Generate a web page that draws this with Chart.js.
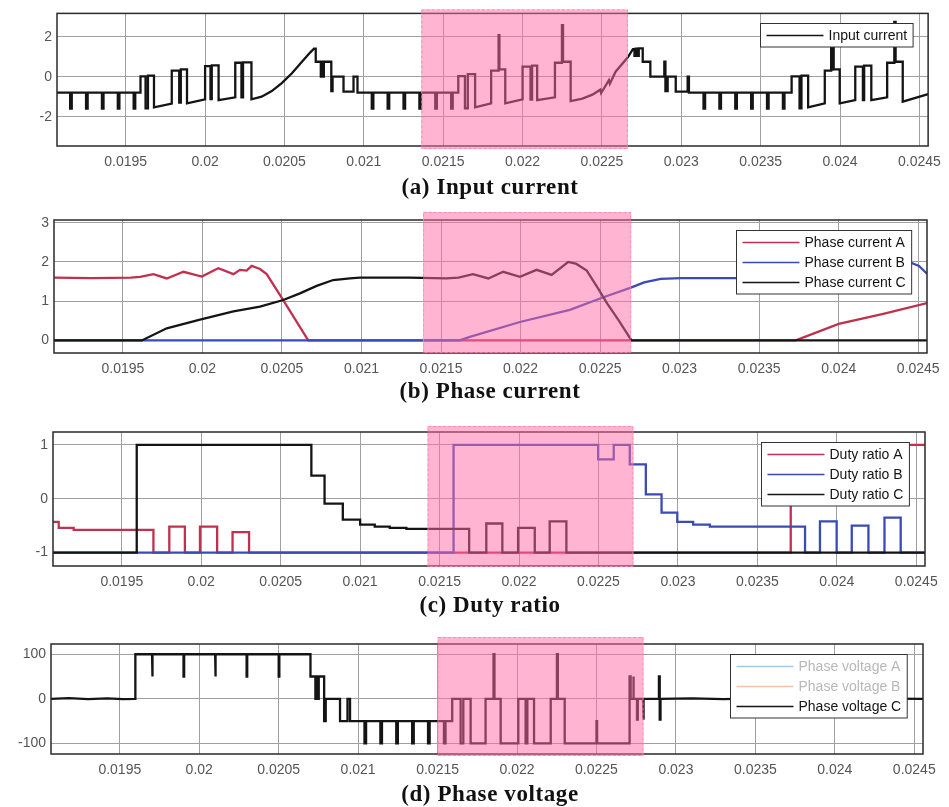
<!DOCTYPE html>
<html>
<head>
<meta charset="utf-8">
<script src="https://cdn.jsdelivr.net/npm/chart.js@4.4.1/dist/chart.umd.min.js"></script>
<style>
  body { margin: 0; background: #fff; }
  #fig { position: relative; width: 949px; height: 807px; overflow: hidden; }
  #fig canvas { position: absolute; left: 0; }
  .cap { position: absolute; left: 490px; transform: translate(-50%, -50%); white-space: nowrap;
         font: bold 23px "Liberation Serif", "Times New Roman", serif; letter-spacing: 0.6px; color: #111; }
</style>
</head>
<body>
<div id="fig">
  <canvas id="cA" width="949" height="190" style="top:0px"></canvas>
  <canvas id="cB" width="949" height="190" style="top:200px"></canvas>
  <canvas id="cC" width="949" height="190" style="top:410px"></canvas>
  <canvas id="cD" width="949" height="170" style="top:624px"></canvas>
  <div class="cap" style="top:187px">(a) Input current</div>
  <div class="cap" style="top:391px">(b) Phase current</div>
  <div class="cap" style="top:605px">(c) Duty ratio</div>
  <div class="cap" style="top:794px">(d) Phase voltage</div>
</div>
<script>
"use strict";

// 1: data (time in s)
const xMin = 0.019067, xMax = 0.024555;
const xTicks = [0.0195, 0.02, 0.0205, 0.021, 0.0215, 0.022, 0.0225, 0.023, 0.0235, 0.024, 0.0245];
const xTickLabels = ['0.0195', '0.02', '0.0205', '0.021', '0.0215', '0.022', '0.0225', '0.023', '0.0235', '0.024', '0.0245'];

// highlighted window per panel (a, b, c, d)
const hlFrom = [0.021362, 0.021387, 0.021424, 0.0215];
const hlTo = [0.022664, 0.022695, 0.02272, 0.022796];

// (a) input current
const inputTicks = [-2, 0, 2];
const inputCurrent = [
  [0.019067,-0.80],
  [0.01915,-0.80],[0.01915,-1.60],[0.01916,-1.60],[0.01916,-0.80],
  [0.01925,-0.80],[0.01925,-1.60],[0.01926,-1.60],[0.01926,-0.80],
  [0.01935,-0.80],[0.01935,-1.60],[0.01936,-1.60],[0.01936,-0.80],
  [0.01945,-0.80],[0.01945,-1.60],[0.01946,-1.60],[0.01946,-0.80],
  [0.01955,-0.80],[0.01955,-1.60],[0.01956,-1.60],[0.01956,-0.80],
  [0.019593,-0.80],[0.019593,0.02],[0.019625,0.02],[0.019625,-1.58],[0.01964,-1.58],[0.01964,0.05],[0.019678,0.05],[0.019678,-1.53],
  [0.01979,-1.35],[0.01979,0.30],[0.019837,0.30],[0.019837,-1.30],[0.019847,-1.30],[0.019847,0.37],[0.019886,0.37],[0.019886,-1.33],
  [0.02,-1.13],[0.02,0.53],[0.020034,0.53],[0.020034,-1.12],[0.020042,-1.12],[0.020042,0.57],[0.020085,0.57],[0.020085,-1.17],
  [0.02019,-1.03],[0.02019,0.70],[0.020229,0.70],[0.020229,-1.03],[0.020239,-1.03],[0.020239,0.72],[0.020292,0.72],[0.020292,-1.13],
  [0.020356,-1.00],[0.02042,-0.72],[0.020483,-0.32],[0.020547,0.17],[0.02061,0.75],[0.020663,1.22],[0.020686,1.40],
  [0.020697,1.40],[0.020697,0.75],[0.020729,0.75],[0.020729,0.0],[0.020735,0.0],[0.020735,0.75],[0.020742,0.75],[0.020742,0.0],
  [0.020748,0.0],[0.020748,0.75],[0.020795,0.75],[0.020795,-0.72],[0.020803,-0.72],[0.020803,0.0],[0.020872,0.0],[0.020872,-0.75],
  [0.020935,-0.75],[0.020935,0.0],[0.02096,0.0],[0.02096,-0.80],
  [0.02105,-0.80],[0.02105,-1.60],[0.02106,-1.60],[0.02106,-0.80],
  [0.02115,-0.80],[0.02115,-1.60],[0.02116,-1.60],[0.02116,-0.80],
  [0.02125,-0.80],[0.02125,-1.60],[0.02126,-1.60],[0.02126,-0.80],
  [0.02135,-0.80],[0.02135,-1.60],[0.02136,-1.60],[0.02136,-0.80],
  [0.02145,-0.80],[0.02145,-1.60],[0.02146,-1.60],[0.02146,-0.80],
  [0.02155,-0.80],[0.02155,-1.60],[0.02156,-1.60],[0.02156,-0.80],
  [0.021595,-0.80],[0.021595,0.03],[0.021637,0.03],[0.021637,-1.58],[0.021655,-1.58],[0.021655,0.13],[0.021701,0.13],[0.021701,-1.53],
  [0.021802,-1.33],[0.021802,0.30],[0.021849,0.30],[0.021849,2.08],[0.021854,2.08],[0.021854,0.37],[0.021891,0.37],[0.021891,-1.33],
  [0.022,-1.13],[0.022,0.50],[0.02205,0.50],[0.02205,-1.15],[0.02206,-1.15],[0.02206,0.55],[0.022092,0.55],[0.022092,-1.17],
  [0.022204,-1.03],[0.022204,0.70],[0.022248,0.70],[0.022248,2.58],[0.022255,2.58],[0.022255,0.75],[0.022303,0.75],[0.022303,-1.22],
  [0.022377,-1.10],[0.02244,-0.90],[0.02249,-0.65],[0.022495,-0.82],[0.022544,-0.17],[0.02255,-0.35],[0.022586,0.25],[0.022663,0.97],[0.022695,1.38],
  [0.022705,1.38],[0.022705,1.05],[0.022712,1.05],[0.022712,1.40],[0.022725,1.40],[0.022725,1.05],[0.022732,1.05],[0.022732,1.42],[0.022757,1.42],[0.022757,0.75],
  [0.022805,0.75],[0.022805,0.0],[0.022893,0.0],[0.022893,0.75],[0.0229,0.75],[0.0229,-0.72],[0.022914,-0.72],[0.022914,0.0],
  [0.022965,0.0],[0.022965,-0.75],[0.02304,-0.75],[0.02304,0.0],[0.023048,0.0],[0.023048,-0.80],
  [0.02314,-0.80],[0.02314,-1.60],[0.02315,-1.60],[0.02315,-0.80],
  [0.02324,-0.80],[0.02324,-1.60],[0.02325,-1.60],[0.02325,-0.80],
  [0.02334,-0.80],[0.02334,-1.60],[0.02335,-1.60],[0.02335,-0.80],
  [0.02344,-0.80],[0.02344,-1.60],[0.02345,-1.60],[0.02345,-0.80],
  [0.02354,-0.80],[0.02354,-1.60],[0.02355,-1.60],[0.02355,-0.80],
  [0.02364,-0.80],[0.02364,-1.60],[0.02365,-1.60],[0.02365,-0.80],
  [0.023695,-0.80],[0.023695,0.02],[0.023745,0.02],[0.023745,-1.58],[0.023757,-1.58],[0.023757,0.05],[0.023799,0.05],[0.023799,-1.53],
  [0.023904,-1.33],[0.023904,0.30],[0.023944,0.30],[0.023944,2.25],[0.02395,2.25],[0.02395,0.30],[0.023954,0.30],[0.023954,2.25],
  [0.02396,2.25],[0.02396,0.37],[0.023998,0.37],[0.023998,-1.33],
  [0.024096,-1.17],[0.024096,0.50],[0.024144,0.50],[0.024144,-1.17],[0.024152,-1.17],[0.024152,0.55],[0.024197,0.55],[0.024197,-1.17],
  [0.024297,-1.03],[0.024297,0.70],[0.024342,0.70],[0.024342,2.75],[0.02435,2.75],[0.02435,0.75],[0.024395,0.75],[0.024395,-1.25],
  [0.024555,-0.87]
];

// (b) phase currents
const phaseTicks = [0, 1, 2, 3];
const phaseCurrentA = [
  [0.019067,1.60],[0.0193,1.59],[0.01955,1.60],[0.019609,1.62],[0.019692,1.69],[0.019776,1.58],[0.019881,1.75],
  [0.019996,1.63],[0.0201,1.84],[0.020195,1.69],[0.020236,1.80],[0.020278,1.78],[0.02031,1.90],[0.020362,1.82],
  [0.020404,1.69],[0.020508,1.03],[0.020665,0],[0.02373,0],[0.024,0.42],[0.02428,0.68],[0.024555,0.95]
];
const phaseCurrentB = [
  [0.019067,0],[0.021617,0],[0.021681,0.09],[0.021996,0.47],[0.02231,0.78],[0.022521,1.10],[0.022689,1.34],
  [0.022777,1.48],[0.022881,1.57],[0.023007,1.59],[0.023363,1.59],[0.0238,1.60],[0.02395,1.68],[0.0241,1.65],
  [0.02425,1.80],[0.02435,1.85],[0.02443,2.02],[0.024505,1.90],[0.024555,1.70]
];
const phaseCurrentC = [
  [0.019067,0],[0.019619,0],[0.019776,0.31],[0.019985,0.53],[0.020195,0.74],[0.020362,0.86],[0.020508,1.03],
  [0.020613,1.20],[0.020718,1.39],[0.020822,1.54],[0.020927,1.58],[0.02099,1.60],[0.0213,1.60],[0.021534,1.58],
  [0.02161,1.60],[0.021701,1.69],[0.021797,1.58],[0.021891,1.75],[0.021996,1.62],[0.022101,1.80],[0.022195,1.67],
  [0.022299,2.00],[0.022351,1.95],[0.022416,1.78],[0.022483,1.35],[0.022546,0.93],[0.022619,0.50],[0.022697,0],[0.024555,0]
];

// (c) duty ratios
const dutyTicks = [-1, 0, 1];
const dutyA = [
  [0.019067,-0.43],[0.019103,-0.43],[0.019103,-0.54],[0.019197,-0.54],[0.019197,-0.58],[0.019699,-0.58],[0.019699,-1],
  [0.019799,-1],[0.019799,-0.52],[0.019897,-0.52],[0.019897,-1],[0.019992,-1],[0.019992,-0.52],[0.0201,-0.52],[0.0201,-1],
  [0.020197,-1],[0.020197,-0.62],[0.020301,-0.62],[0.020301,-1],[0.02371,-1],[0.02371,1],[0.024555,1]
];
const dutyB = [
  [0.019067,-1],[0.021588,-1],[0.021588,1],[0.022498,1],[0.022498,0.73],[0.022596,0.73],[0.022596,1],[0.022697,1],
  [0.022697,0.64],[0.022798,0.64],[0.022798,0.08],[0.022897,0.08],[0.022897,-0.26],[0.022996,-0.26],[0.022996,-0.43],
  [0.023096,-0.43],[0.023096,-0.48],[0.023201,-0.48],[0.023201,-0.52],[0.0238,-0.52],[0.0238,-1],
  [0.023894,-1],[0.023894,-0.42],[0.023999,-0.42],[0.023999,-1],[0.024094,-1],[0.024094,-0.50],[0.024199,-0.50],[0.024199,-1],
  [0.0243,-1],[0.0243,-0.35],[0.024402,-0.35],[0.024402,-1],[0.024555,-1]
];
const dutyC = [
  [0.019067,-1],[0.019594,-1],[0.019594,1],[0.020693,1],[0.020693,0.43],[0.020776,0.43],[0.020776,-0.09],[0.020891,-0.09],
  [0.020891,-0.39],[0.021,-0.39],[0.021,-0.48],[0.021092,-0.48],[0.021092,-0.52],[0.021186,-0.52],[0.021186,-0.54],
  [0.021291,-0.54],[0.021291,-0.56],[0.021686,-0.56],[0.021686,-1],
  [0.021794,-1],[0.021794,-0.46],[0.021895,-0.46],[0.021895,-1],[0.021994,-1],[0.021994,-0.54],[0.022099,-0.54],[0.022099,-1],
  [0.022193,-1],[0.022193,-0.42],[0.022298,-0.42],[0.022298,-1],[0.024555,-1]
];

// (d) phase voltage C (A and B switched off in the legend)
const voltTicks = [-100, 0, 100];
const phaseVoltC = [
  [0.019067,0],[0.01918,1.5],[0.0193,-1],[0.01942,1],[0.01952,-1],[0.019598,0],[0.019598,100],
  [0.019703,100],[0.019703,50],[0.019707,50],[0.019707,100],
  [0.019901,100],[0.019901,50],[0.019905,50],[0.019905,100],
  [0.0201,100],[0.0201,50],[0.020104,50],[0.020104,100],
  [0.020298,100],[0.020298,50],[0.020302,50],[0.020302,100],
  [0.0205,100],[0.0205,50],[0.020504,50],[0.020504,100],
  [0.0207,100],[0.0207,50],[0.020731,50],[0.020731,0],[0.020737,0],[0.020737,50],[0.020746,50],[0.020746,0],
  [0.020752,0],[0.020752,50],[0.020786,50],[0.020786,-50],[0.020796,-50],[0.020796,0],[0.020886,0],[0.020886,-50],
  [0.020933,-50],[0.020933,0],[0.020949,0],[0.020949,-50],
  [0.02104,-50],[0.02104,-100],[0.02105,-100],[0.02105,-50],
  [0.02114,-50],[0.02114,-100],[0.02115,-100],[0.02115,-50],
  [0.02124,-50],[0.02124,-100],[0.02125,-100],[0.02125,-50],
  [0.02134,-50],[0.02134,-100],[0.02135,-100],[0.02135,-50],
  [0.02144,-50],[0.02144,-100],[0.02145,-100],[0.02145,-50],
  [0.02154,-50],[0.02154,-100],[0.02155,-100],[0.02155,-50],
  [0.021592,-50],[0.021592,0],[0.021645,0],[0.021645,-100],[0.021662,-100],[0.021662,0],[0.021708,0],[0.021708,-100],
  [0.021802,-100],[0.021802,0],[0.021852,0],[0.021852,100],[0.021858,100],[0.021858,0],[0.021897,0],[0.021897,-100],
  [0.022008,-100],[0.022008,0],[0.022054,0],[0.022054,-100],[0.022065,-100],[0.022065,0],[0.022107,0],[0.022107,-100],
  [0.022212,-100],[0.022212,0],[0.022251,0],[0.022251,100],[0.022257,100],[0.022257,0],[0.0223,0],[0.0223,-100],
  [0.0225,-100],[0.0225,-50],[0.022504,-50],[0.022504,-100],
  [0.022705,-100],[0.022705,0],[0.02271,0],[0.02271,50],[0.022715,50],[0.022715,0],[0.02273,0],[0.02273,50],
  [0.022735,50],[0.022735,0],[0.022755,0],[0.022755,-47],[0.02276,-47],[0.02276,0],[0.022793,0],[0.022793,-47],
  [0.022798,-47],[0.022798,0],[0.022893,0],[0.022893,50],[0.022898,50],[0.022898,-47],[0.022903,-47],[0.022903,0],
  [0.0231,1],[0.0233,-1],[0.0235,1],[0.0238,0],[0.0241,1],[0.024555,0]
];

// 2: helpers
const RED = '#c1304f', BLUE = '#3a4bb5', BLACK = '#141414';
Chart.defaults.font.family = '"Liberation Sans", Arial, sans-serif';

function xy(pairs) {
  return pairs.map(p => ({ x: p[0], y: p[1] }));
}

function line(label, pairs, color, order) {
  return {
    label, data: xy(pairs), borderColor: color, borderWidth: 2.3,
    pointRadius: 0, tension: 0, fill: false, order
  };
}

// box, highlight window and legend drawn over the plotted lines
const decor = {
  id: 'decor',
  afterDatasetsDraw(chart, args, opts) {
    const { ctx, chartArea: a } = chart;
    const x = chart.scales.x;
    ctx.save();
    ctx.strokeStyle = '#2a2a2a';
    ctx.lineWidth = 1.5;
    ctx.strokeRect(a.left, a.top, a.right - a.left, a.bottom - a.top);

    const x0 = x.getPixelForValue(opts.from), x1 = x.getPixelForValue(opts.to);
    const y0 = a.top - opts.up, y1 = a.bottom + opts.down;
    ctx.fillStyle = 'rgba(255,105,165,0.5)';
    ctx.fillRect(x0, y0, x1 - x0, y1 - y0);
    ctx.setLineDash([3, 2]);
    ctx.strokeStyle = 'rgba(255,130,170,0.8)';
    ctx.lineWidth = 1;
    ctx.strokeRect(x0 + 0.5, y0 + 0.5, x1 - x0 - 1, y1 - y0 - 1);
    ctx.setLineDash([]);

    const sets = chart.data.datasets;
    ctx.font = '14px "Liberation Sans", Arial, sans-serif';
    let tw = 0;
    sets.forEach(d => { tw = Math.max(tw, ctx.measureText(d.label).width); });
    const w = 6 + 57 + 5 + tw + 6, h = sets.length * 20 + 3.5;
    const bx = Math.round(a.right - 16 - w) + 0.5, by = Math.round(a.top + 10) + 0.5;
    ctx.fillStyle = '#fff';
    ctx.fillRect(bx, by, w, h);
    ctx.strokeStyle = '#333';
    ctx.strokeRect(bx, by, w, h);
    ctx.textBaseline = 'middle';
    sets.forEach((d, i) => {
      const cy = by + 12 + i * 20;
      ctx.strokeStyle = d.legendColor || d.borderColor;
      ctx.lineWidth = 1.5;
      ctx.beginPath();
      ctx.moveTo(bx + 6, cy);
      ctx.lineTo(bx + 63, cy);
      ctx.stroke();
      ctx.fillStyle = d.faded ? '#b8b8b8' : '#141414';
      ctx.fillText(d.label, bx + 68, cy + 0.5);
    });
    ctx.restore();
  }
};

// 3: create one panel
function panel(id, geo, yMin, yMax, yTicks, datasets, hl) {
  const tickFont = { size: 14 };
  return new Chart(document.getElementById(id), {
    type: 'line',
    data: { datasets },
    options: {
      responsive: false,
      animation: false,
      devicePixelRatio: 1,
      layout: { padding: { left: 0, right: 949 - geo.R, top: geo.T, bottom: 0 } },
      plugins: { legend: { display: false }, tooltip: { enabled: false }, decor: hl },
      scales: {
        x: {
          type: 'linear', min: xMin, max: xMax,
          afterBuildTicks: s => { s.ticks = xTicks.map(v => ({ value: v })); },
          afterFit: s => { s.height = geo.XH; },
          ticks: { autoSkip: false, maxRotation: 0, minRotation: 0, padding: 8, color: '#555', font: tickFont,
                   callback: (v, i) => xTickLabels[i] },
          grid: { color: '#a0a0a0', lineWidth: 1, drawTicks: false },
          border: { display: false }
        },
        y: {
          type: 'linear', min: yMin, max: yMax,
          afterBuildTicks: s => { s.ticks = yTicks.map(v => ({ value: v })); },
          afterFit: s => { s.width = geo.L; },
          ticks: { padding: 5, color: '#555', font: tickFont, callback: v => String(v) },
          grid: { color: '#a0a0a0', lineWidth: 1, drawTicks: false },
          border: { display: false }
        }
      }
    },
    plugins: [decor]
  });
}

panel('cA', { L: 57, R: 930, T: 13, XH: 44 }, -3.47, 3.17, inputTicks,
  [line('Input current', inputCurrent, BLACK, 0)],
  { from: hlFrom[0], to: hlTo[0], up: 4, down: 3 });

panel('cB', { L: 54, R: 927, T: 20, XH: 37 }, -0.32, 3.07, phaseTicks,
  [line('Phase current A', phaseCurrentA, RED, 2),
   line('Phase current B', phaseCurrentB, BLUE, 1),
   line('Phase current C', phaseCurrentC, BLACK, 0)],
  { from: hlFrom[1], to: hlTo[1], up: 8, down: 0 });

panel('cC', { L: 53, R: 925, T: 22, XH: 34 }, -1.25, 1.24, dutyTicks,
  [line('Duty ratio A', dutyA, RED, 2),
   line('Duty ratio B', dutyB, BLUE, 1),
   line('Duty ratio C', dutyC, BLACK, 0)],
  { from: hlFrom[2], to: hlTo[2], up: 6, down: 1 });

const vA = line('Phase voltage A', [], '#9fcbe9', 2);
vA.faded = true;
const vB = line('Phase voltage B', [], '#f5c2ad', 1);
vB.faded = true;
panel('cD', { L: 51, R: 923, T: 20, XH: 40 }, -124, 123, voltTicks,
  [vA, vB, line('Phase voltage C', phaseVoltC, BLACK, 0)],
  { from: hlFrom[3], to: hlTo[3], up: 7, down: 2 });
</script>
</body>
</html>
